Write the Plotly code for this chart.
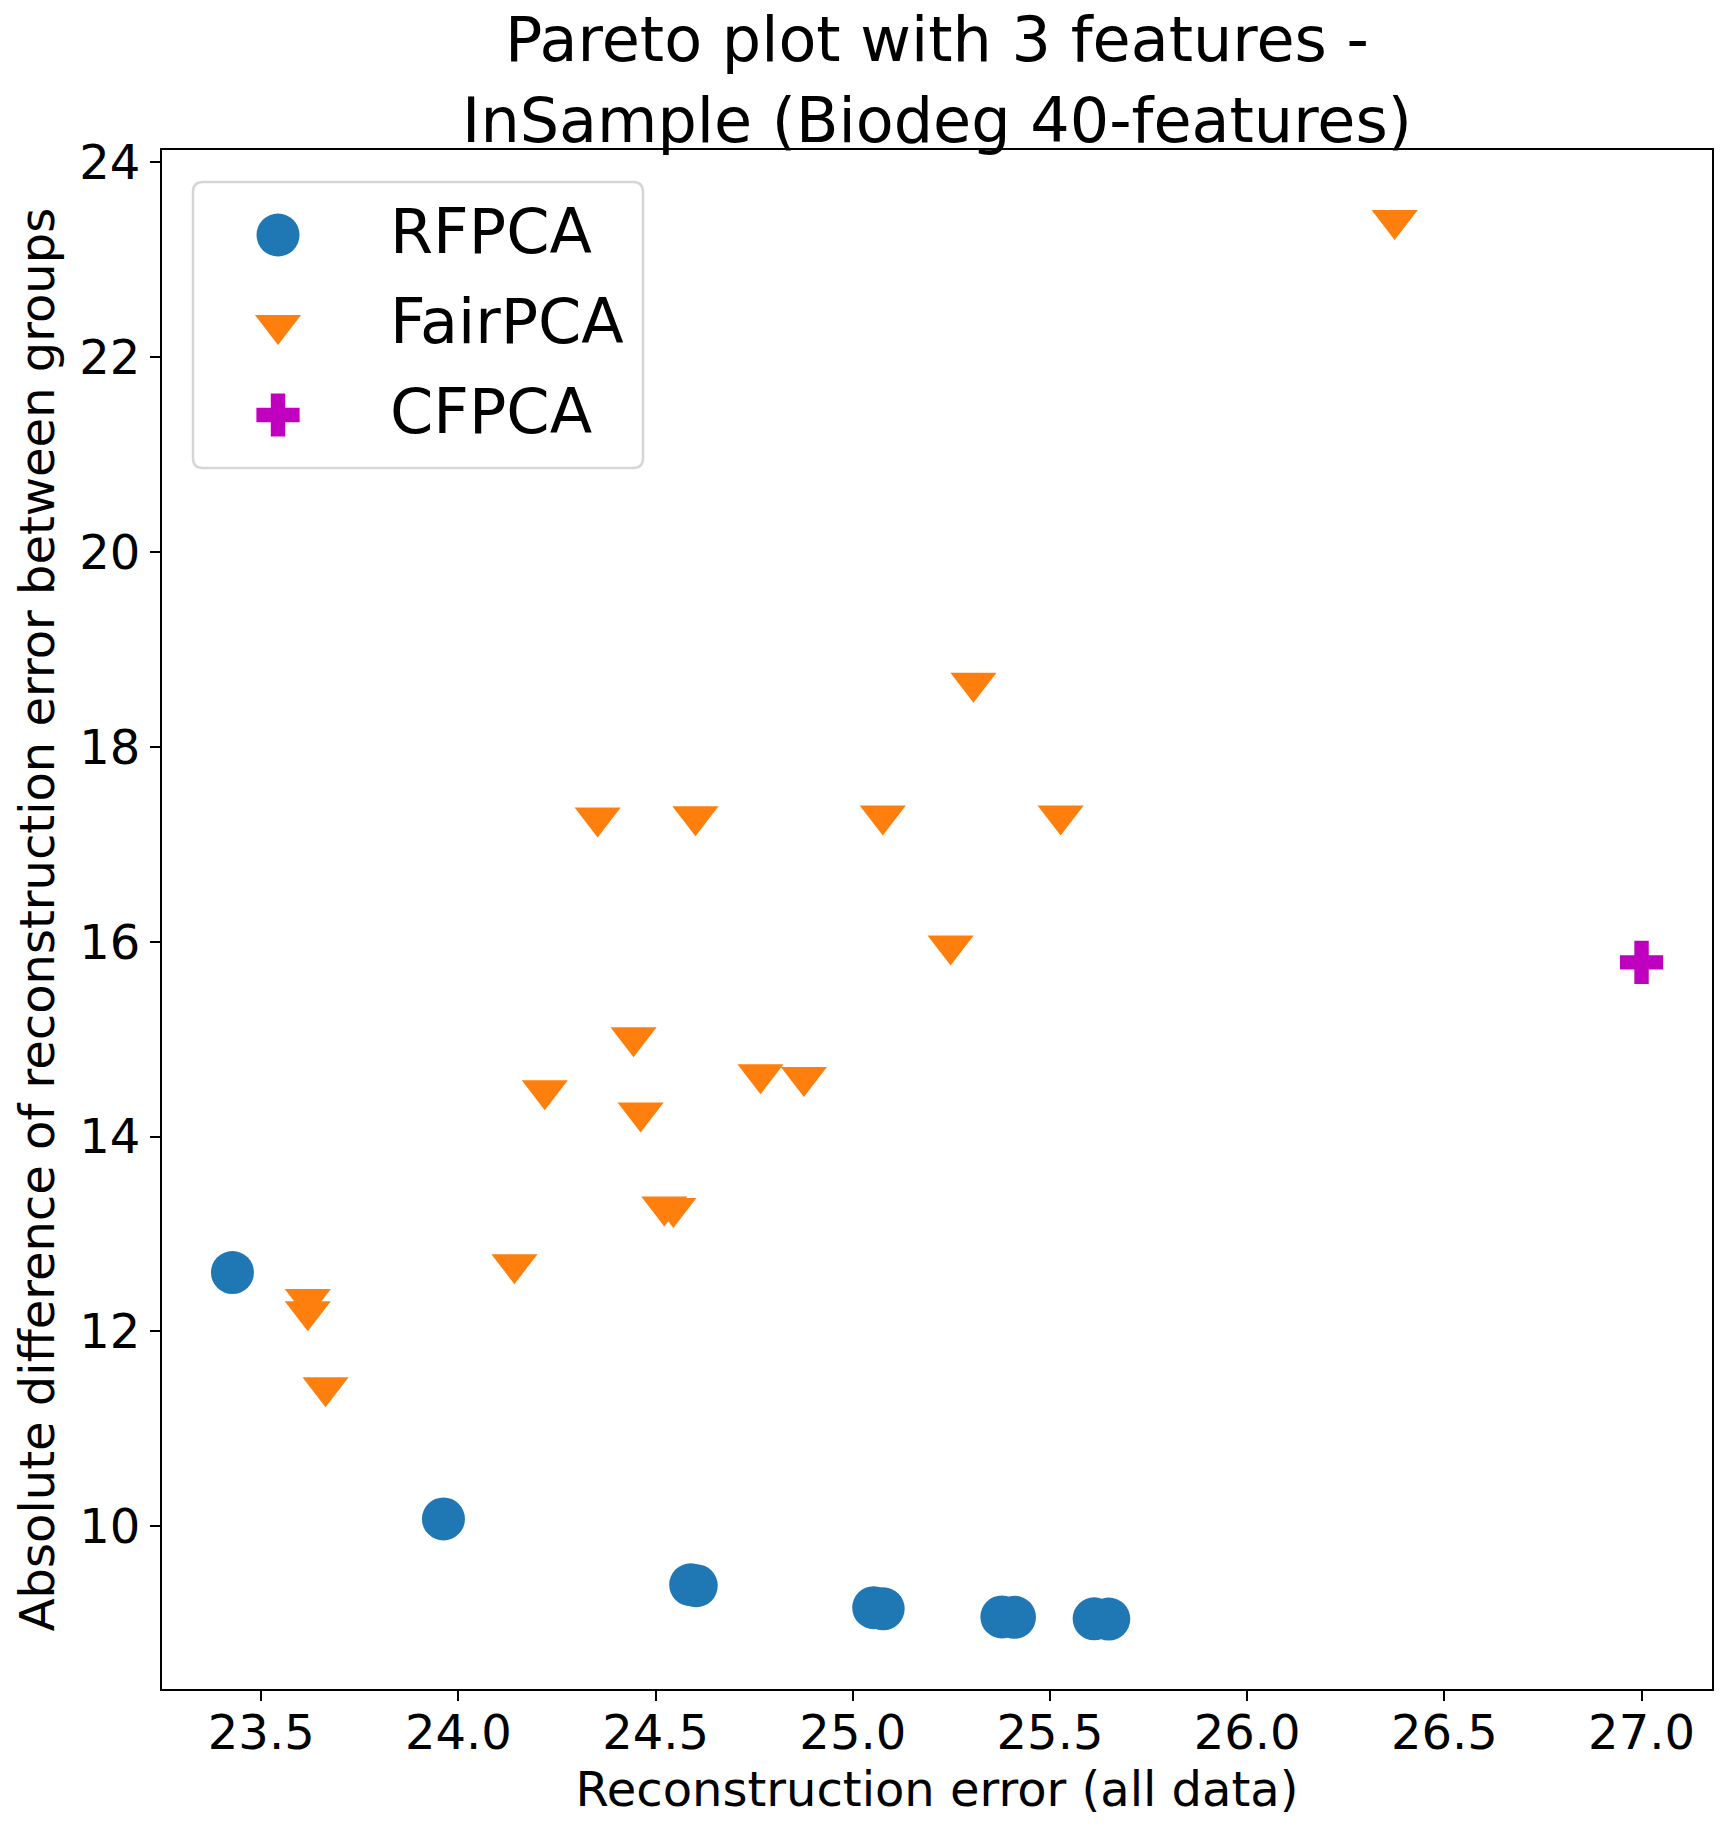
import plotly.graph_objects as go

# ---------------------------------------------------------
# 数据
# ---------------------------------------------------------
rfpca_x = [23.427, 23.962, 24.589, 24.603, 25.053, 25.077, 25.378, 25.410, 25.612, 25.649]
rfpca_y = [12.605, 10.076, 9.400, 9.390, 9.165, 9.153, 9.070, 9.066, 9.050, 9.048]

fairpca_x = [26.374, 25.306, 24.353, 24.601, 25.076, 25.527, 25.248, 24.444, 24.219,
             24.462, 24.766, 24.876, 24.522, 24.545, 24.142, 23.618, 23.618, 23.663]
fairpca_y = [23.410, 18.660, 17.277, 17.288, 17.296, 17.296, 15.963, 15.019, 14.475,
             14.247, 14.641, 14.612, 13.284, 13.267, 12.691, 12.333, 12.207, 11.428]

cfpca_x = [27.0]
cfpca_y = [15.789]

method_names = ["RFPCA", "FairPCA", "CFPCA"]
x_ticks = [23.5, 24.0, 24.5, 25.0, 25.5, 26.0, 26.5, 27.0]
y_ticks = [10, 12, 14, 16, 18, 20, 22, 24]

title_text = "Pareto plot with 3 features -<br>InSample (Biodeg 40-features)"
x_label = "Reconstruction error (all data)"
y_label = "Absolute difference of reconstruction error between groups"

# ---------------------------------------------------------
# 样式
# ---------------------------------------------------------
W, H = 1732, 1837
L, R, T, B = 162, 1712, 150, 1689   # 绘图区像素边界
FONT = "DejaVu Sans"
styles = [
    dict(symbol="circle", size=43, color="#1f77b4"),
    dict(symbol="triangle-down", size=40, color="#ff7f0e"),
    dict(symbol="cross", size=36, color="#bf00bf"),
]


def padded(vals, frac=0.05):
    lo, hi = min(vals), max(vals)
    span = hi - lo
    return [lo - frac * span, hi + frac * span]


all_x = rfpca_x + fairpca_x + cfpca_x
all_y = rfpca_y + fairpca_y + cfpca_y

fig = go.Figure()
series = [(rfpca_x, rfpca_y), (fairpca_x, fairpca_y), (cfpca_x, cfpca_y)]
for name, (xs, ys), st in zip(method_names, series, styles):
    fig.add_trace(go.Scatter(
        x=xs, y=ys, mode="markers", name=name, showlegend=False,
        marker=dict(symbol=st["symbol"], size=st["size"], color=st["color"],
                    line=dict(width=0)),
    ))

# ---------------------------------------------------------
# 图例 (用像素坐标的叠加轴绘制，使标记与参考图同样大小)
# ---------------------------------------------------------
leg_x0, leg_x1, leg_y0, leg_y1, rad = 193, 643, 182, 468, 10
leg_rows = [235, 325, 415]
leg_mark_x, leg_text_x = 278, 388

for name, row, st in zip(method_names, leg_rows, styles):
    fig.add_trace(go.Scatter(
        x=[leg_mark_x], y=[row], xaxis="x2", yaxis="y2", mode="markers",
        name=name, showlegend=False, hoverinfo="skip",
        marker=dict(symbol=st["symbol"], size=st["size"], color=st["color"],
                    line=dict(width=0)),
    ))
    fig.add_annotation(
        x=leg_text_x, y=row - 4, xref="x2", yref="y2", text=name, showarrow=False,
        xanchor="left", yanchor="middle", font=dict(family=FONT, size=62, color="black"),
    )

box_path = (
    f"M{leg_x0 + rad},{leg_y0} L{leg_x1 - rad},{leg_y0} Q{leg_x1},{leg_y0} {leg_x1},{leg_y0 + rad} "
    f"L{leg_x1},{leg_y1 - rad} Q{leg_x1},{leg_y1} {leg_x1 - rad},{leg_y1} "
    f"L{leg_x0 + rad},{leg_y1} Q{leg_x0},{leg_y1} {leg_x0},{leg_y1 - rad} "
    f"L{leg_x0},{leg_y0 + rad} Q{leg_x0},{leg_y0} {leg_x0 + rad},{leg_y0} Z"
)
fig.add_shape(type="path", path=box_path, xref="x2", yref="y2", layer="below",
              line=dict(color="#d6d6d6", width=2.5), fillcolor="white")

axis_common = dict(
    showline=True, mirror=True, linecolor="black", linewidth=2.2,
    ticks="outside", ticklen=10, tickwidth=2.2, tickcolor="black",
    showgrid=False, zeroline=False,
    tickfont=dict(family=FONT, size=48, color="black"),
)

fig.update_layout(
    width=W, height=H,
    margin=dict(l=L, r=W - R, t=T, b=H - B, pad=0),
    paper_bgcolor="white", plot_bgcolor="white",
    font=dict(family=FONT, color="black"),
    title=dict(text=title_text, x=(L + R) / 2 / W, xanchor="center",
               yref="paper", y=1, yanchor="bottom", pad=dict(b=89),
               font=dict(family=FONT, size=62, color="black")),
    xaxis=dict(range=padded(all_x), tickvals=x_ticks, tickformat=".1f",
               ticklabelstandoff=-10,
               title=dict(text=x_label, font=dict(family=FONT, size=48, color="black"), standoff=14),
               **axis_common),
    yaxis=dict(range=padded(all_y), tickvals=y_ticks,
               title=dict(text=y_label, font=dict(family=FONT, size=48, color="black"), standoff=9),
               **axis_common),
    xaxis2=dict(overlaying="x", anchor="y2", range=[L, R], visible=False, fixedrange=True),
    yaxis2=dict(overlaying="y", anchor="x2", range=[B, T], visible=False, fixedrange=True),
    showlegend=False,
)

# 去掉页面默认的 body 边距，使图形与窗口对齐
fig.write_html("out.html", config={"displayModeBar": False},
               post_script="document.body.style.margin='0';")
